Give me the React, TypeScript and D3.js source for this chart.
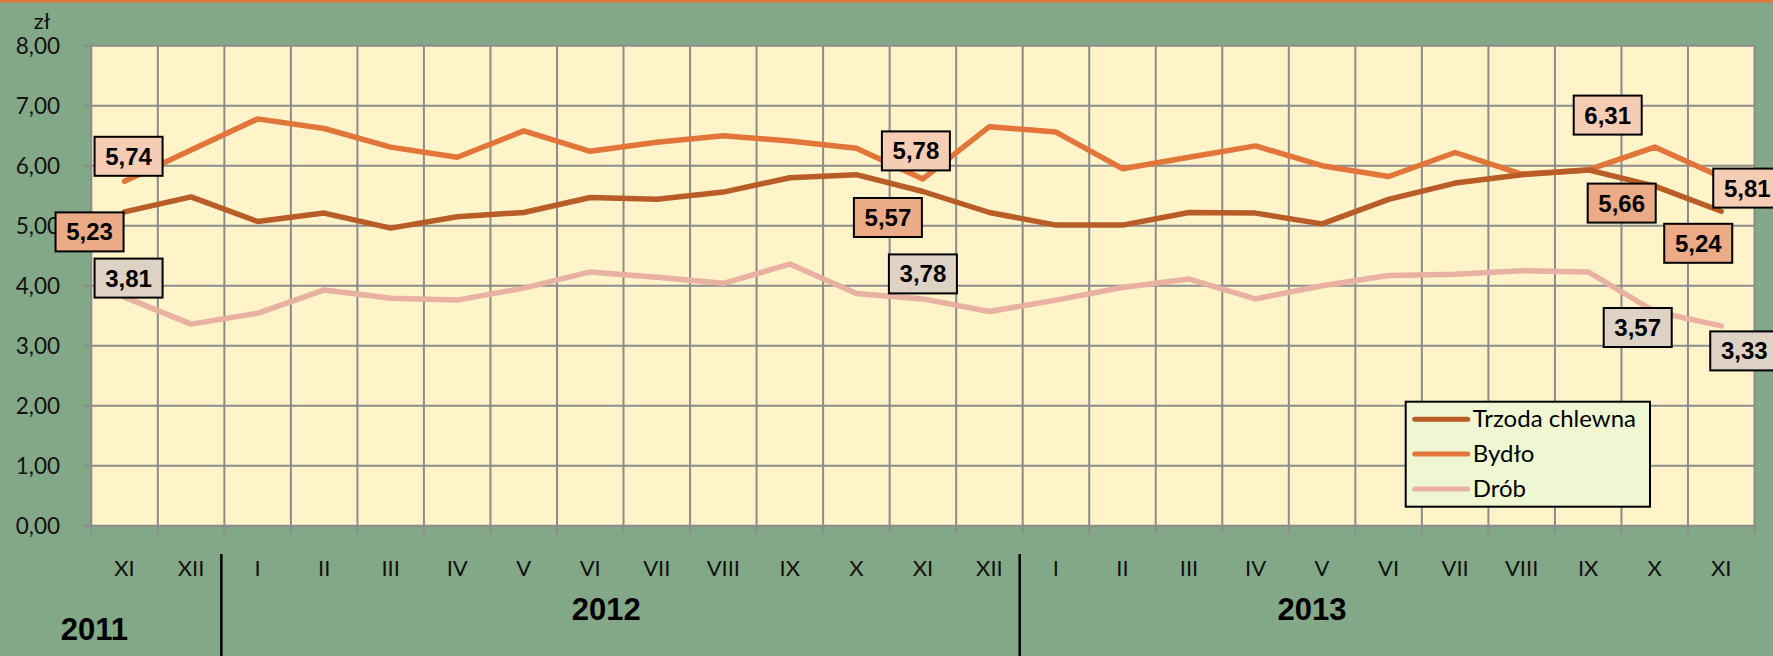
import { useEffect, useRef } from 'react';
import * as d3 from 'd3';

const months = ['XI', 'XII', 'I', 'II', 'III', 'IV', 'V', 'VI', 'VII', 'VIII', 'IX', 'X', 'XI', 'XII', 'I', 'II', 'III', 'IV', 'V', 'VI', 'VII', 'VIII', 'IX', 'X', 'XI'];
const years = ['2011', '2011', '2012', '2012', '2012', '2012', '2012', '2012', '2012', '2012', '2012', '2012', '2012', '2012', '2013', '2013', '2013', '2013', '2013', '2013', '2013', '2013', '2013', '2013', '2013'];

const trzoda = [5.23, 5.48, 5.07, 5.21, 4.96, 5.15, 5.22, 5.47, 5.44, 5.56, 5.80, 5.85, 5.57, 5.22, 5.01, 5.01, 5.22, 5.21, 5.03, 5.44, 5.71, 5.85, 5.93, 5.66, 5.24];
const bydlo = [5.74, 6.26, 6.78, 6.62, 6.31, 6.14, 6.58, 6.24, 6.39, 6.50, 6.41, 6.29, 5.78, 6.65, 6.56, 5.95, 6.14, 6.33, 6.00, 5.82, 6.22, 5.86, 5.93, 6.31, 5.81];
const drob = [3.81, 3.36, 3.54, 3.93, 3.79, 3.76, 3.96, 4.23, 4.14, 4.04, 4.36, 3.87, 3.78, 3.57, 3.76, 3.97, 4.11, 3.78, 4.00, 4.17, 4.19, 4.25, 4.23, 3.57, 3.33];

const seriesNames = ['Trzoda chlewna', 'Bydło', 'Drób'];
const yTicks = [0, 1, 2, 3, 4, 5, 6, 7, 8];
const labelled = [0, 12, 23, 24];

const App = () => {
  const svgRef = useRef<SVGSVGElement>(null);

  useEffect(() => {
    if (!svgRef.current) return;
    document.body.style.margin = '0';
    d3.select(svgRef.current).selectAll('*').remove();

    const W = 1773;
    const H = 656;
    const margin = { top: 45.7, right: 18.5, bottom: 130.3, left: 91.3 };

    const svg = d3.select(svgRef.current);
    const keys = months.map((m, i) => `${years[i]}-${m}-${i}`);

    const x = d3.scaleBand<string>().domain(keys).range([margin.left, W - margin.right]);
    const y = d3.scaleLinear().domain([0, 8]).range([H - margin.bottom, margin.top]);
    const cx = (i: number) => (x(keys[i]) as number) + x.bandwidth() / 2;

    // background
    svg.append('rect').attr('width', W).attr('height', H).attr('fill', '#82a887');
    svg.append('rect').attr('width', W).attr('height', 2.5).attr('fill', '#e2793c');

    // plot area
    svg.append('rect')
      .attr('x', margin.left)
      .attr('y', margin.top)
      .attr('width', W - margin.left - margin.right)
      .attr('height', H - margin.top - margin.bottom)
      .attr('fill', '#fff3c9');

    const grid = svg.append('g').attr('stroke', '#8c8c8c').attr('stroke-width', 2);
    grid.selectAll('.hg')
      .data(yTicks)
      .enter()
      .append('line')
      .attr('x1', margin.left - 8)
      .attr('x2', W - margin.right)
      .attr('y1', d => y(d))
      .attr('y2', d => y(d));
    grid.selectAll('.vg')
      .data(d3.range(keys.length + 1))
      .enter()
      .append('line')
      .attr('x1', i => (i < keys.length ? (x(keys[i]) as number) : W - margin.right))
      .attr('x2', i => (i < keys.length ? (x(keys[i]) as number) : W - margin.right))
      .attr('y1', margin.top)
      .attr('y2', y(0) + 8);

    // y axis labels
    svg.append('g')
      .selectAll('text')
      .data(yTicks)
      .enter()
      .append('text')
      .attr('x', 60)
      .attr('y', d => y(d) + 8)
      .attr('text-anchor', 'end')
      .attr('font-family', 'Lato, sans-serif')
      .attr('font-size', 22.5)
      .attr('fill', '#111')
      .text(d => d.toFixed(2).replace('.', ','));

    svg.append('text')
      .attr('x', 42)
      .attr('y', 29)
      .attr('text-anchor', 'middle')
      .attr('font-family', 'Lato, sans-serif')
      .attr('font-size', 22)
      .attr('fill', '#111')
      .text('zł');

    // x axis labels
    svg.append('g')
      .selectAll('text')
      .data(months)
      .enter()
      .append('text')
      .attr('x', (_, i) => cx(i))
      .attr('y', 576)
      .attr('text-anchor', 'middle')
      .attr('font-family', 'Lato, sans-serif')
      .attr('font-size', 22)
      .attr('fill', '#111')
      .text(d => d);

    // year separators
    const sepIdx = keys.map((_, i) => i).filter(i => i > 0 && years[i] !== years[i - 1]);
    svg.append('g')
      .selectAll('line')
      .data(sepIdx)
      .enter()
      .append('line')
      .attr('x1', i => (x(keys[i]) as number) - 3)
      .attr('x2', i => (x(keys[i]) as number) - 3)
      .attr('y1', 554)
      .attr('y2', H)
      .attr('stroke', '#000')
      .attr('stroke-width', 2.5);

    // year labels
    const yearPos: [string, number, number][] = [
      ['2011', margin.left + 3, 640],
      ['2012', cx(7) + 16, 620],
      ['2013', cx(18) - 10, 620],
    ];
    svg.append('g')
      .selectAll('text')
      .data(yearPos)
      .enter()
      .append('text')
      .attr('x', d => d[1])
      .attr('y', d => d[2])
      .attr('text-anchor', 'middle')
      .attr('font-family', '"Liberation Sans", Arial, sans-serif')
      .attr('font-weight', 'bold')
      .attr('font-size', 31)
      .attr('fill', '#000')
      .text(d => d[0]);

    // lines
    const series = [
      { name: seriesNames[0], values: trzoda, color: '#b95d28', box: '#ebab86', offs: [[-35, 20], [-35, 26], [-33, 17], [-23, 32]] },
      { name: seriesNames[1], values: bydlo, color: '#e2763a', box: '#f5cdb4', offs: [[4, -25], [-7, -28], [-47, -32], [26, 11]] },
      { name: seriesNames[2], values: drob, color: '#e8b1a1', box: '#ddd2c3', offs: [[4, -19], [0, -25], [-17, 16], [23, 25]] },
    ];

    const line = d3.line<number>()
      .x((_, i) => cx(i))
      .y(d => y(d));

    series.slice().reverse().forEach(s => {
      svg.append('path')
        .datum(s.values)
        .attr('fill', 'none')
        .attr('stroke', s.color)
        .attr('stroke-width', 5.5)
        .attr('stroke-linejoin', 'round')
        .attr('stroke-linecap', 'round')
        .attr('d', line);
    });

    // data labels
    const bw = 68;
    const bh = 39;
    series.forEach(s => {
      labelled.forEach((idx, k) => {
        const px = cx(idx) + s.offs[k][0];
        const py = y(s.values[idx]) + s.offs[k][1];
        const g = svg.append('g');
        g.append('rect')
          .attr('x', px - bw / 2)
          .attr('y', py - bh / 2)
          .attr('width', bw)
          .attr('height', bh)
          .attr('fill', s.box)
          .attr('stroke', '#000')
          .attr('stroke-width', 2);
        g.append('text')
          .attr('x', px)
          .attr('y', py + 8.5)
          .attr('text-anchor', 'middle')
          .attr('font-family', '"Liberation Sans", Arial, sans-serif')
          .attr('font-weight', 'bold')
          .attr('font-size', 24)
          .attr('fill', '#000')
          .text(s.values[idx].toFixed(2).replace('.', ','));
      });
    });

    // legend
    const legend = svg.append('g').attr('transform', 'translate(1405.7,401.7)');
    legend.append('rect')
      .attr('width', 244.3)
      .attr('height', 105)
      .attr('fill', '#eef7d2')
      .attr('stroke', '#000')
      .attr('stroke-width', 2);
    series.forEach((s, i) => {
      const ly = 17.6 + i * 34.8;
      legend.append('line')
        .attr('x1', 9)
        .attr('x2', 62)
        .attr('y1', ly)
        .attr('y2', ly)
        .attr('stroke', s.color)
        .attr('stroke-width', 5)
        .attr('stroke-linecap', 'round');
      legend.append('text')
        .attr('x', 67)
        .attr('y', ly + 8)
        .attr('font-family', 'Lato, sans-serif')
        .attr('font-size', 24)
        .attr('fill', '#000')
        .text(s.name);
    });
  }, []);

  return (
    <svg
      ref={svgRef}
      width={1773}
      height={656}
      style={{ position: 'absolute', left: 0, top: 0, display: 'block' }}
    />
  );
};

export default App;
